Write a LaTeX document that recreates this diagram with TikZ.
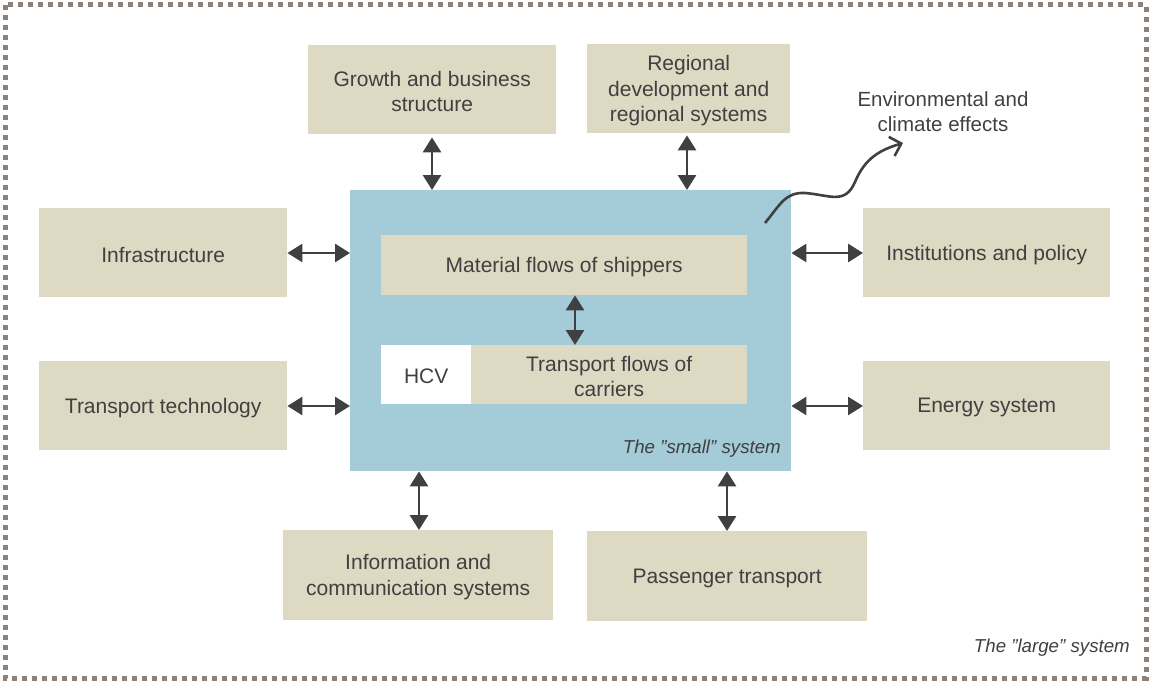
\documentclass[tikz,border=0pt]{standalone}
\usepackage{fontspec}
\setmainfont{Liberation Sans}
\usetikzlibrary{arrows.meta}
\definecolor{tan}{HTML}{DDD9C3}
\definecolor{sky}{HTML}{A3CBD8}
\definecolor{ink}{HTML}{404040}
\definecolor{frame}{HTML}{8C8279}
\tikzset{
  tanbox/.style={fill=tan,draw=none,align=center,text=ink,font=\fontsize{21}{25.5}\selectfont,inner sep=0pt},
  txt/.style={tanbox,fill=none,yshift=-2pt},
  dbl/.style={{Triangle[length=15pt,width=18pt]}-{Triangle[length=15pt,width=18pt]},line width=2.8pt,draw=ink},
  lbl/.style={text=ink,font=\fontsize{18.7}{22}\selectfont\itshape,inner sep=0pt}
}
\begin{document}
\begin{tikzpicture}[x=1pt,y=-1pt]
\useasboundingbox (0,0) rectangle (1150,682);
\draw[frame,line width=5pt,dash pattern=on 5pt off 5pt] (5,5) rectangle (1146,678);
% big blue box
\node[fill=sky,minimum width=441pt,minimum height=281pt,inner sep=0pt,anchor=north west] (small) at (350,190) {};
\node[lbl,anchor=east] (smalllbl) at (781,449) {The "small" system};
\node[lbl,anchor=east] (largelbl) at (1130,648) {The "large" system};
% inner boxes
\node[tanbox,minimum width=366pt,minimum height=60pt,anchor=north west] (mat) at (381,235) {};
\node[txt] (matt) at (mat.center) {Material flows of shippers};
\node[fill=white,minimum width=90pt,minimum height=59pt,inner sep=0pt,anchor=north west] (hcv) at (381,345) {};
\node[txt] (hcvt) at (hcv.center) {HCV};
\node[tanbox,minimum width=276pt,minimum height=59pt,anchor=north west] (trans) at (471,345) {};
\node[txt] (transt) at (trans.center) {Transport flows of\\carriers};
% outer boxes
\node[tanbox,minimum width=248pt,minimum height=89pt,anchor=north west] (grow) at (308,45) {};
\node[txt] (growt) at (grow.center) {Growth and business\\structure};
\node[tanbox,minimum width=203pt,minimum height=89pt,anchor=north west] (reg) at (587,44) {};
\node[txt] (regt) at (reg.center) {Regional\\development and\\regional systems};
\node[tanbox,minimum width=248pt,minimum height=89pt,anchor=north west] (infra) at (39,208) {};
\node[txt] (infrat) at (infra.center) {Infrastructure};
\node[tanbox,minimum width=248pt,minimum height=89pt,anchor=north west] (ttech) at (39,361) {};
\node[txt] (ttecht) at (ttech.center) {Transport technology};
\node[tanbox,minimum width=247pt,minimum height=89pt,anchor=north west] (inst) at (863,208) {};
\node[txt] (instt) at (inst.center) {Institutions and policy};
\node[tanbox,minimum width=247pt,minimum height=89pt,anchor=north west] (energy) at (863,361) {};
\node[txt] (energyt) at (energy.center) {Energy system};
\node[tanbox,minimum width=270pt,minimum height=90pt,anchor=north west] (info) at (283,530) {};
\node[txt] (infot) at (info.center) {Information and\\communication systems};
\node[tanbox,minimum width=280pt,minimum height=90pt,anchor=north west] (pass) at (587,531) {};
\node[txt] (passt) at (pass.center) {Passenger transport};
\node[text=ink,font=\fontsize{20.5}{25}\selectfont,align=center,inner sep=0pt] (env) at (943,112) {Environmental and\\climate effects};
% arrows
\draw[dbl] (grow.south -| 432,0) ++(0,3) coordinate (g1) -- (g1 |- small.north);
\draw[dbl] (reg.south -| 687,0) ++(0,2) coordinate (r1) -- (r1 |- small.north);
\draw[dbl] (infra.east |- 0,253) -- (small.west |- 0,253);
\draw[dbl] (ttech.east |- 0,406) -- (small.west |- 0,406);
\draw[dbl] (small.east |- 0,253) -- (inst.west |- 0,253);
\draw[dbl] (small.east |- 0,406) -- (energy.west |- 0,406);
\draw[dbl] (small.south -| 419,0) -- (info.north -| 419,0);
\draw[dbl] (small.south -| 727,0) -- (pass.north -| 727,0);
\draw[dbl] (mat.south -| 575,0) -- (trans.north -| 575,0);
\coordinate (w0) at (765,223);
\coordinate (w1) at (903,143);
\draw[line width=2.6pt,draw=ink,-{Straight Barb[length=10pt,width=20pt,line width=2.6pt]}]
  (w0) .. controls (780,205) and (785,192) .. (805,193)
  .. controls (830,195) and (845,205) .. (855,182)
  .. controls (865,158) and (880,150) .. (w1);
\end{tikzpicture}
\end{document}
